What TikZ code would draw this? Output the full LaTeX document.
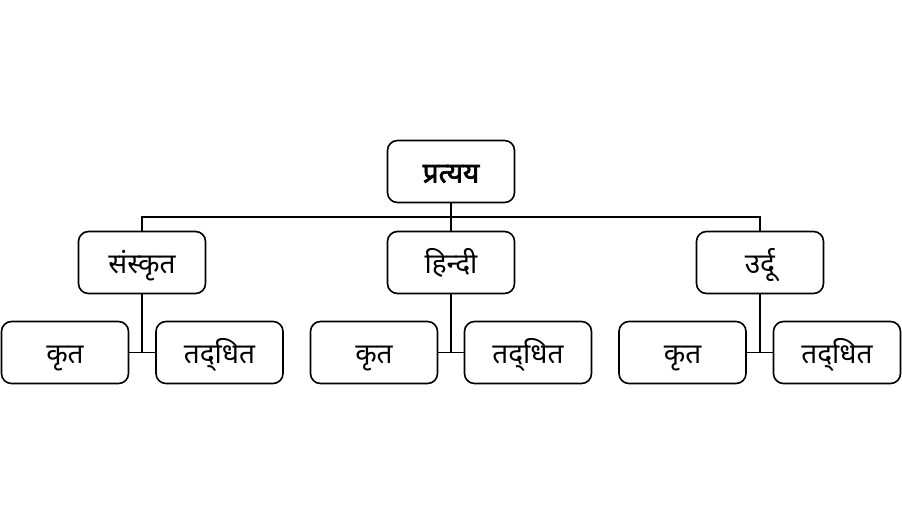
\documentclass[tikz,border=0pt]{standalone}
\usepackage{fontspec}
\newfontfamily\deva[Script=Devanagari]{Noto Sans}
\newfontfamily\devab[Script=Devanagari,FakeBold=2.5]{Noto Sans}
\begin{document}
\begin{tikzpicture}[x=1pt,y=-1pt,
  box/.style={draw,line width=1.6pt,rounded corners=10pt,minimum width=127pt,minimum height=62pt,inner sep=0pt,text height=30pt,text depth=8pt,font=\deva\fontsize{28}{30}\selectfont},
  conn/.style={line width=1.6pt}]
\useasboundingbox (0,0) rectangle (902,525);
\node[box,font=\devab\fontsize{28}{30}\selectfont] (root) at (451,171.5) {प्रत्यय};
\node[box] (s) at (142,262.5) {संस्कृत};
\node[box] (h) at (451,262.5) {हिन्दी};
\node[box] (u) at (760,262.5) {उर्दू};
\node[box] (s1) at (65,352.5) {कृत};
\node[box] (s2) at (219.5,352.5) {तद्‌धित};
\node[box] (h1) at (374,352.5) {कृत};
\node[box] (h2) at (528,352.5) {तद्‌धित};
\node[box] (u1) at (682.5,352.5) {कृत};
\node[box] (u2) at (837,352.5) {तद्‌धित};
\coordinate (bar) at (451,217);
\draw[conn] (root.south) -- (bar);
\draw[conn] (s.north) |- (bar) -| (u.north);
\draw[conn] (bar) -- (h.north);
\foreach \p/\a/\b in {s/s1/s2,h/h1/h2,u/u1/u2}{
  \draw[conn] (\p.south) -- (\p.south |- \a.east);
  \draw[conn] (\a.east) -- (\b.west);
}
\end{tikzpicture}
\end{document}
